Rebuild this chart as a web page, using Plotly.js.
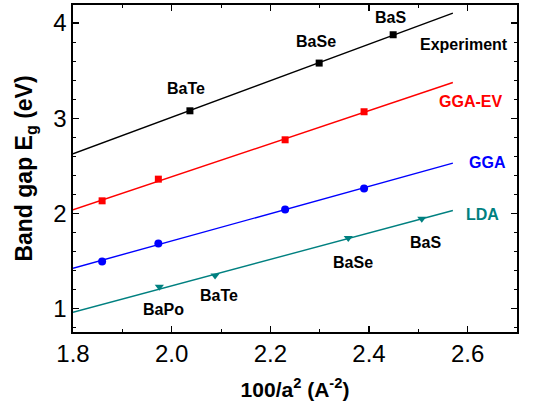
<!DOCTYPE html>
<html>
<head>
<meta charset="utf-8">
<script src="https://cdn.plot.ly/plotly-3.0.1.min.js"></script>
<style>html,body{margin:0;padding:0;background:#fff;}#chart{width:552px;height:409px;}</style>
</head>
<body>
<div id="chart"></div>
<script>
// Data
const expX = [2.037, 2.299, 2.449];
const expY = [3.077, 3.579, 3.877];
const expFitX = [1.8, 2.57];
const expFitY = [2.625, 4.105];

const evX = [1.859, 1.973, 2.230, 2.390];
const evY = [2.130, 2.358, 2.772, 3.067];
const evFitX = [1.8, 2.57];
const evFitY = [2.035, 3.375];

const ggaX = [1.859, 1.973, 2.230, 2.390];
const ggaY = [1.491, 1.681, 2.039, 2.260];
const ggaFitX = [1.8, 2.57];
const ggaFitY = [1.421, 2.526];

const ldaX = [1.975, 2.088, 2.358, 2.507];
const ldaY = [1.225, 1.345, 1.738, 1.942];
const ldaFitX = [1.8, 2.57];
const ldaFitY = [0.958, 2.028];

const compoundLabels = ["BaTe", "BaSe", "BaS", "BaPo", "BaTe", "BaSe", "BaS"];
const compoundLabelX = [2.03, 2.292, 2.444, 1.983, 2.095, 2.367, 2.515];
const compoundLabelY = [3.31, 3.81, 4.06, 0.99, 1.13, 1.484, 1.691];

const seriesNames = ["Experiment", "GGA-EV", "GGA", "LDA"];
const seriesLabelX = [2.593, 2.606, 2.64, 2.63];
const seriesLabelY = [3.77, 3.175, 2.533, 1.986];
const seriesColors = ["#000000", "#ff0000", "#0000ff", "#008080"];

const xTickVals = [1.8, 2.0, 2.2, 2.4, 2.6];
const xTickText = ["1.8", "2.0", "2.2", "2.4", "2.6"];
const yTickVals = [1, 2, 3, 4];
const yTickText = ["1", "2", "3", "4"];

const fits = [[expFitX, expFitY], [evFitX, evFitY], [ggaFitX, ggaFitY], [ldaFitX, ldaFitY]];
const pts = [[expX, expY, "square", 7], [evX, evY, "square", 7], [ggaX, ggaY, "circle", 8], [ldaX, ldaY, "triangle-down", 8]];

const traces = [];
for (let i = 0; i < 4; i++) {
  traces.push({x: fits[i][0], y: fits[i][1], mode: "lines", line: {color: seriesColors[i], width: 1.4}, hoverinfo: "skip", showlegend: false});
  traces.push({x: pts[i][0], y: pts[i][1], mode: "markers", marker: {symbol: pts[i][2], size: pts[i][3], color: seriesColors[i]}, showlegend: false});
}

const labelFont = "'Liberation Sans', Arial, sans-serif";
const annotations = [];
for (let i = 0; i < compoundLabels.length; i++) {
  annotations.push({x: compoundLabelX[i], y: compoundLabelY[i], text: "<b>" + compoundLabels[i] + "</b>", showarrow: false,
    font: {family: labelFont, size: 16, color: "#000"}, xanchor: "center", yanchor: "middle"});
}
for (let i = 0; i < seriesNames.length; i++) {
  annotations.push({x: seriesLabelX[i], y: seriesLabelY[i], text: "<b>" + seriesNames[i] + "</b>", showarrow: false,
    font: {family: labelFont, size: 16, color: seriesColors[i]}, xanchor: "center", yanchor: "middle"});
}

const axisCommon = {
  showline: true, mirror: "allticks", linecolor: "#000", linewidth: 1.6,
  ticks: "inside", ticklen: 6, tickwidth: 1.2, tickcolor: "#000",
  showgrid: false, zeroline: false,
  tickfont: {family: "'Liberation Sans Narrow', 'Liberation Sans', Arial, sans-serif", size: 24, color: "#000"}
};

const layout = {
  width: 552, height: 409,
  margin: {l: 73, r: 35, t: 5, b: 77},
  paper_bgcolor: "#fff", plot_bgcolor: "#fff",
  xaxis: Object.assign({}, axisCommon, {
    range: [1.8, 2.7], tickmode: "array", tickvals: xTickVals, ticktext: xTickText,
    minor: {dtick: 0.1, tick0: 1.8, ticks: "inside", ticklen: 3, tickwidth: 1, tickcolor: "#000", showgrid: false},
    title: {text: "<b>100/a<sup>2</sup> (A<sup>-2</sup>)</b>", font: {family: labelFont, size: 21, color: "#000"}, standoff: 16}
  }),
  yaxis: Object.assign({}, axisCommon, {
    range: [0.75, 4.19], tickmode: "array", tickvals: yTickVals, ticktext: yTickText,
    minor: {dtick: 0.2, tick0: 0, ticks: "inside", ticklen: 3, tickwidth: 1, tickcolor: "#000", showgrid: false},
    title: {text: "<b>Band gap E<sub>g</sub> (eV)</b>", font: {family: labelFont, size: 23, color: "#000"}, standoff: 14}
  }),
  annotations: annotations
};

Plotly.newPlot("chart", traces, layout, {displayModeBar: false, staticPlot: true});
</script>
</body>
</html>
